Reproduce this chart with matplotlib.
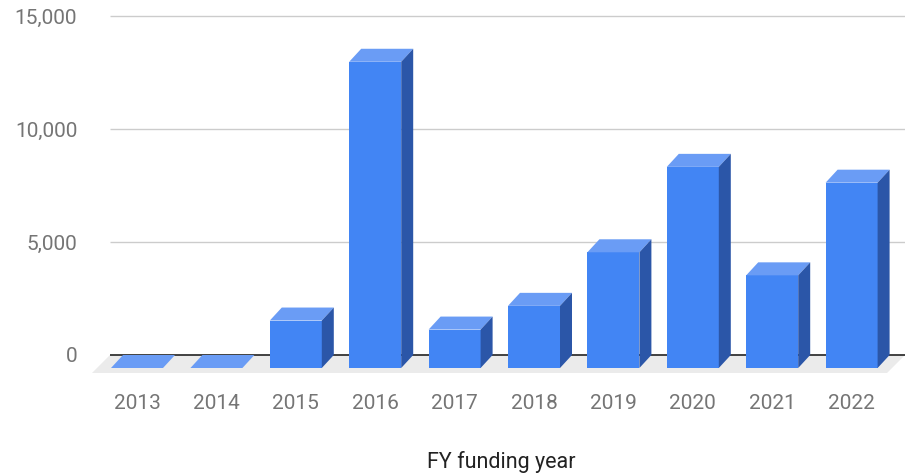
import numpy as np
import matplotlib.pyplot as plt
from matplotlib.patches import Polygon

plt.rcParams['font.family'] = ['Roboto', 'DejaVu Sans']

# funding per fiscal year
years = ["2013", "2014", "2015", "2016", "2017", "2018", "2019", "2020", "2021", "2022"]
values = [0, 0, 2100, 13550, 1700, 2750, 5120, 8900, 4100, 8200]
y_ticks = [0, 5000, 10000, 15000]
y_tick_labels = ["0", "5,000", "10,000", "15,000"]

# pixel geometry of the pseudo-3d columns
W, H, DPI = 905, 476, 100
PX_PER_CAT = 79.4          # px between neighbouring columns
PX_PER_VAL = 113 / 5000    # px per unit of value
BACK_CENTER0 = 149         # px, back face centre of first column
BASE_PX = 355              # px, back baseline row
TOP_PX = 12                # px, top of the axes
AX_LEFT_PX = 80
BOT_VAL = -1000            # lowest value shown in axes

dx = 12 / PX_PER_CAT        # depth offset, category units
dy = 13 / PX_PER_VAL        # depth offset, value units
bw = 52 / PX_PER_CAT        # column width
floor_dx = 18 / PX_PER_CAT
floor_dy = 18 / PX_PER_VAL

front_col = "#4285f4"
top_col = "#6a9cf5"
side_col = "#2b56a8"
floor_col = "#ebebeb"

fig = plt.figure(figsize=(W / DPI, H / DPI), dpi=DPI)
top_val = (BASE_PX - TOP_PX) / PX_PER_VAL
bot_px = BASE_PX - BOT_VAL * PX_PER_VAL
ax = fig.add_axes([AX_LEFT_PX / W, 1 - bot_px / H, 1 - AX_LEFT_PX / W, (bot_px - TOP_PX) / H])
x_lo = (AX_LEFT_PX - BACK_CENTER0) / PX_PER_CAT
x_hi = (W - BACK_CENTER0) / PX_PER_CAT
ax.set_xlim(x_lo, x_hi)
ax.set_ylim(BOT_VAL, top_val)
for s in ax.spines.values():
    s.set_visible(False)

grid_x0 = (110 - BACK_CENTER0) / PX_PER_CAT

# floor
floor = Polygon([(grid_x0, 0), (x_hi, 0), (x_hi - floor_dx, -floor_dy),
                 (grid_x0 - floor_dx, -floor_dy)], closed=True, fc=floor_col, ec="none", zorder=1)
ax.add_patch(floor)

# gridlines on the back wall
ax.hlines(y_ticks[1:], grid_x0, x_hi, colors="#cccccc", lw=1, zorder=0)
ax.hlines(0, grid_x0, x_hi, colors="#333333", lw=1.3, zorder=2)

x = np.arange(len(years))
for xi, v in zip(x, values):
    fl = xi - dx - bw / 2
    fr = xi - dx + bw / 2
    front = Polygon([(fl, -dy), (fr, -dy), (fr, v - dy), (fl, v - dy)], fc=front_col, ec="none", zorder=3)
    top = Polygon([(fl, v - dy), (fr, v - dy), (fr + dx, v), (fl + dx, v)], fc=top_col, ec="none", zorder=3)
    side = Polygon([(fr, -dy), (fr + dx, 0), (fr + dx, v), (fr, v - dy)], fc=side_col, ec="none", zorder=3)
    for p in (front, top, side):
        ax.add_patch(p)

ax.set_xticks(x - dx)
ax.set_xticklabels(years)
ax.set_yticks(y_ticks)
ax.set_yticklabels(y_tick_labels)
ax.tick_params(axis="both", length=0, labelsize=15, labelcolor="#757575")
ax.tick_params(axis="x", pad=12)
ax.tick_params(axis="y", pad=2)

fig.text(501 / W, 1 - 468 / H, "FY funding year", ha="center", va="baseline",
         fontsize=15.5, color="#222222")

fig.savefig("out.png", dpi=DPI, facecolor="white")
